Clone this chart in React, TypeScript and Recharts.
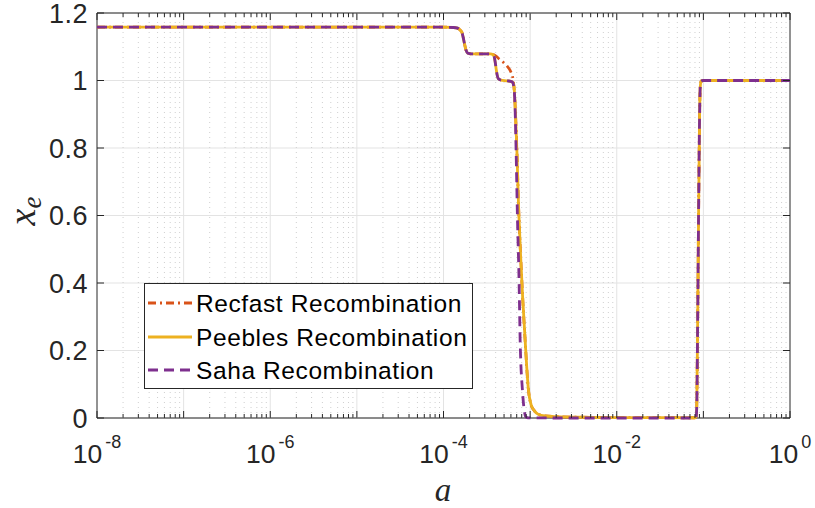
import React from "react";
import {
  LineChart,
  Line,
  XAxis,
  YAxis,
  CartesianGrid,
  ReferenceLine,
  ReferenceArea,
  Legend,
  Label,
} from "recharts";

const SANS = '"Liberation Sans", Arial, Helvetica, sans-serif';
const SERIF = '"Liberation Serif", "Times New Roman", serif';
const INK = "#262626";

const WIDTH = 815;
const HEIGHT = 508;
// plot box edges in px
const BOX = { left: 97, right: 790, top: 13, bottom: 418 };

// ---- free electron fraction x_e against scale factor a ----

// fully ionised H + He, then He++ -> He+ (same for all three models)
const earlyA = [1e-8, 1e-6, 1e-4, 1.3e-4, 1.45e-4, 1.55e-4, 1.63e-4, 1.68e-4, 1.75e-4, 1.82e-4, 1.9e-4, 2.1e-4, 3.5e-4];
const earlyXe = [1.158, 1.158, 1.158, 1.157, 1.155, 1.15, 1.143, 1.13, 1.108, 1.09, 1.081, 1.079, 1.079];

// He+ -> He, Saha / Peebles
const heliumStepA = [3.7e-4, 3.85e-4, 3.95e-4, 4.05e-4, 4.15e-4, 4.3e-4, 4.6e-4, 5.5e-4, 6.2e-4];
const heliumStepXe = [1.077, 1.07, 1.055, 1.035, 1.018, 1.005, 1.001, 0.999, 0.996];

// He+ -> He, Recfast (slower)
const recfastHeA = [3.7e-4, 4.0e-4, 4.3e-4, 4.7e-4, 5.4e-4, 6.0e-4, 6.35e-4, 6.6e-4];
const recfastHeXe = [1.078, 1.073, 1.066, 1.058, 1.043, 1.025, 1.004, 0.96];

// hydrogen recombination, Peebles (Recfast follows it from 7e-4 on)
const peeblesHA = [6.5e-4, 6.75e-4, 7.02e-4, 7.37e-4, 7.77e-4, 8.19e-4, 8.76e-4, 9.56e-4, 1.027e-3, 1.121e-3, 1.237e-3, 1.49e-3, 2e-3, 5e-3, 0.02, 0.08];
const peeblesHXe = [0.985, 0.91, 0.8, 0.62, 0.48, 0.36, 0.23, 0.083, 0.039, 0.021, 0.011, 0.006, 0.004, 0.002, 0.001, 0.0008];

// hydrogen recombination, Saha
const sahaHA = [6.5e-4, 6.7e-4, 6.89e-4, 7.13e-4, 7.46e-4, 7.67e-4, 8.15e-4, 8.53e-4, 8.88e-4, 9.5e-4, 1.2e-3, 0.01, 0.08];
const sahaHXe = [0.98, 0.92, 0.79, 0.6, 0.4, 0.23, 0.083, 0.025, 0.004, 0.0005, 0.0001, 0, 0];

// reionisation
const reionA = [0.0825, 0.0838, 0.086, 0.088, 0.0905, 0.092, 0.094, 0.1, 1];
const reionXe = [0.003, 0.03, 0.3, 0.6, 0.9, 0.98, 0.998, 1, 1];

const zip = (a: number[], xe: number[]) => a.map((v, i) => ({ a: v, xe: xe[i] }));

const recfastData = zip(
  [...earlyA, ...recfastHeA, ...peeblesHA.slice(2), ...reionA],
  [...earlyXe, ...recfastHeXe, ...peeblesHXe.slice(2), ...reionXe]
);
const peeblesData = zip(
  [...earlyA, ...heliumStepA, ...peeblesHA, ...reionA],
  [...earlyXe, ...heliumStepXe, ...peeblesHXe, ...reionXe]
);
const sahaData = zip(
  [...earlyA, ...heliumStepA, ...sahaHA, ...reionA],
  [...earlyXe, ...heliumStepXe, ...sahaHXe, ...reionXe]
);

const SERIES = [
  { name: "Recfast Recombination", color: "#D95319", dash: "8 4 2 4", data: recfastData },
  { name: "Peebles Recombination", color: "#EDB120", dash: undefined, data: peeblesData },
  { name: "Saha Recombination", color: "#7E2F8E", dash: "10 6", data: sahaData },
];

// ---- axes ----
const yTicks = [0, 0.2, 0.4, 0.6, 0.8, 1, 1.2];
const decadeTicks = [1e-8, 1e-7, 1e-6, 1e-5, 1e-4, 1e-3, 1e-2, 1e-1, 1];
const minorSteps = [2, 3, 4, 5, 6, 7, 8, 9];
const minorTicks = decadeTicks.slice(0, -1).flatMap((d) => minorSteps.map((m) => m * d));
const xTicks = [...decadeTicks, ...minorTicks].sort((p, q) => p - q);
const labeledDecades = [1e-8, 1e-6, 1e-4, 1e-2, 1];
const labelExponents = ["-8", "-6", "-4", "-2", "0"];

function XTick(props: any) {
  const { x, payload } = props;
  const v = payload.value;
  const major = decadeTicks.includes(v);
  const len = major ? 7 : 4;
  const li = labeledDecades.indexOf(v);
  return (
    <g>
      <line x1={x} x2={x} y1={BOX.bottom} y2={BOX.bottom - len} stroke={INK} />
      <line x1={x} x2={x} y1={BOX.top} y2={BOX.top + len} stroke={INK} />
      {li >= 0 && (
        <text x={x} y={463} textAnchor="middle" fill={INK} fontFamily={SANS}>
          <tspan fontSize={26.5}>10</tspan>
          <tspan fontSize={18} dx={3} dy={-15}>
            {labelExponents[li]}
          </tspan>
        </text>
      )}
    </g>
  );
}

function YTick(props: any) {
  const { y, payload } = props;
  return (
    <g>
      <line x1={BOX.left} x2={BOX.left + 7} y1={y} y2={y} stroke={INK} />
      <line x1={BOX.right} x2={BOX.right - 7} y1={y} y2={y} stroke={INK} />
      <text
        x={88}
        y={y}
        dy="0.36em"
        textAnchor="end"
        fill={INK}
        fontFamily={SANS}
        fontSize={27}
        letterSpacing={0.5}
      >
        {String(payload.value)}
      </text>
    </g>
  );
}

const XTitle = () => (
  <text x={443} y={500.5} textAnchor="middle" fill={INK} fontFamily={SERIF} fontStyle="italic" fontSize={33}>
    a
  </text>
);

const YTitle = () => (
  <text
    transform="translate(35,211) rotate(-90)"
    textAnchor="middle"
    fill={INK}
    fontFamily={SERIF}
    fontStyle="italic"
  >
    <tspan fontSize={38}>x</tspan>
    <tspan fontSize={27} dy={6}>
      e
    </tspan>
  </text>
);

function LegendBox() {
  const rowY = [20, 54, 87];
  return (
    <svg width={329} height={106} style={{ display: "block" }}>
      <rect x={0.5} y={0.5} width={328} height={105} fill="#fff" stroke={INK} />
      {SERIES.map((s, i) => (
        <g key={s.name}>
          <line
            x1={4}
            x2={48}
            y1={rowY[i]}
            y2={rowY[i]}
            stroke={s.color}
            strokeWidth={2.8}
            strokeDasharray={s.dash}
          />
          <text
            x={52}
            y={rowY[i]}
            dy="0.36em"
            fill="#000"
            fontFamily={SANS}
            fontSize={24.5}
            letterSpacing={0.6}
          >
            {s.name}
          </text>
        </g>
      ))}
    </svg>
  );
}

export default function App() {
  return (
    <div style={{ position: "absolute", left: 0, top: 0, width: WIDTH, height: HEIGHT, background: "#fff" }}>
      <LineChart
        width={WIDTH}
        height={HEIGHT}
        margin={{ top: BOX.top, right: WIDTH - BOX.right, left: 0, bottom: 0 }}
      >
        <CartesianGrid vertical={false} stroke="#e3e3e3" />
        {minorTicks.map((v) => (
          <ReferenceLine key={`m${v}`} x={v} stroke="#cfcfcf" strokeDasharray="1 4" />
        ))}
        {decadeTicks.slice(1, -1).map((v) => (
          <ReferenceLine key={`d${v}`} x={v} stroke="#e3e3e3" />
        ))}
        <XAxis
          dataKey="a"
          type="number"
          scale="log"
          domain={[1e-8, 1]}
          ticks={xTicks}
          interval={0}
          height={HEIGHT - BOX.bottom}
          tick={XTick}
          tickLine={false}
          axisLine={false}
        >
          <Label content={XTitle} />
        </XAxis>
        <YAxis
          type="number"
          domain={[0, 1.2]}
          ticks={yTicks}
          interval={0}
          width={BOX.left}
          tick={YTick}
          tickLine={false}
          axisLine={false}
        >
          <Label content={YTitle} />
        </YAxis>
        {SERIES.map((s) => (
          <Line
            key={s.name}
            data={s.data}
            dataKey="xe"
            name={s.name}
            type="monotone"
            stroke={s.color}
            strokeWidth={2.8}
            strokeDasharray={s.dash}
            dot={false}
            activeDot={false}
            isAnimationActive={false}
          />
        ))}
        <ReferenceArea x1={1e-8} x2={1} y1={0} y2={1.2} fill="none" stroke={INK} strokeWidth={1} />
        <Legend
          layout="horizontal"
          verticalAlign="middle"
          content={LegendBox}
          wrapperStyle={{ left: 144, top: 283, width: 329, height: 106 }}
        />
      </LineChart>
    </div>
  );
}
